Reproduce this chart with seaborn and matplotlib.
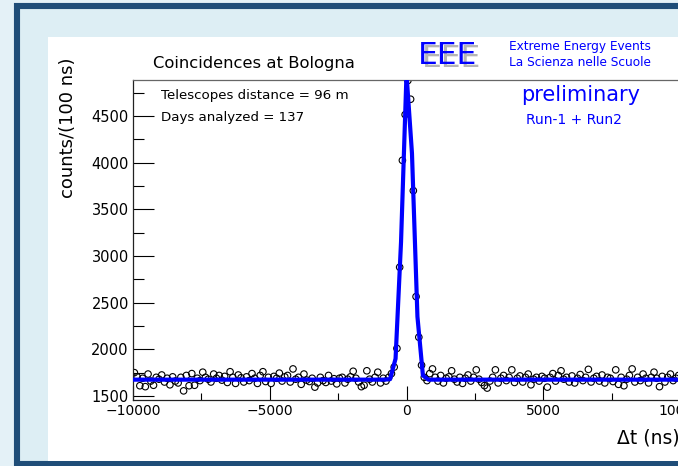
import numpy as np
import matplotlib
matplotlib.use("Agg")
import matplotlib.pyplot as plt
import seaborn as sns
from matplotlib.patches import Rectangle
from matplotlib.ticker import MultipleLocator

# =========================
# data
# =========================
bin_first = -9950      # first bin centre (ns)
bin_width = 100        # ns
counts = [
    1750, 1705, 1610, 1690, 1600, 1735, 1660, 1615, 1700, 1680,
    1725, 1650, 1690, 1620, 1705, 1660, 1640, 1700, 1555, 1720,
    1610, 1740, 1615, 1690, 1665, 1755, 1700, 1680, 1650, 1735,
    1690, 1720, 1670, 1710, 1645, 1760, 1700, 1635, 1725, 1695,
    1650, 1705, 1665, 1740, 1690, 1635, 1720, 1760, 1655, 1700,
    1635, 1710, 1690, 1745, 1660, 1705, 1720, 1650, 1790, 1680,
    1700, 1625, 1735, 1670, 1655, 1690, 1595, 1640, 1700, 1665,
    1645, 1720, 1660, 1685, 1630, 1690, 1700, 1640, 1680, 1705,
    1765, 1690, 1650, 1600, 1615, 1770, 1680, 1650, 1700, 1755,
    1640, 1690, 1660, 1700, 1740, 1810, 2010, 2880, 4025, 4515,
    4880, 4680, 3700, 2565, 2130, 1830, 1700, 1665, 1740, 1790,
    1700, 1660, 1720, 1640, 1690, 1705, 1770, 1680, 1650, 1700,
    1635, 1690, 1725, 1660, 1700, 1780, 1680, 1645, 1611, 1585,
    1660, 1700, 1780, 1640, 1690, 1720, 1665, 1700, 1780, 1645,
    1690, 1715, 1650, 1700, 1735, 1620, 1680, 1700, 1660, 1710,
    1690, 1595, 1700, 1740, 1660, 1720, 1770, 1680, 1700, 1650,
    1715, 1640, 1690, 1730, 1665, 1700, 1785, 1650, 1690, 1710,
    1660, 1725, 1640, 1700, 1690, 1655, 1780, 1625, 1700, 1610,
    1680, 1720, 1790, 1650, 1700, 1665, 1735, 1690, 1640, 1700,
    1755, 1690, 1600, 1710, 1650, 1700, 1735, 1665, 1690, 1720,
]
dt = bin_first + bin_width * np.arange(len(counts))

# fit curve: flat background plus the peak vertices (drawn every 200 ns)
fit_step = 200
fit_background = 1675
fit_peak_x = [-600, -400, -200, 0, 200, 400, 600]
fit_peak_y = [1680, 1900, 3150, 4950, 4100, 2350, 1720]

fit_x = np.arange(-10000, 10001, fit_step)
fit_y = np.full(len(fit_x), fit_background, dtype=float)
for xv, yv in zip(fit_peak_x, fit_peak_y):
    fit_y[fit_x == xv] = yv

title = "Coincidences at Bologna"
info_lines = ["Telescopes distance = 96 m", "Days analyzed = 137"]

# =========================
# figure
# =========================
W, H = 678, 466
fig = plt.figure(figsize=(W / 100, H / 100), dpi=100, facecolor="#e4f1f7")


def fx(x):
    return x / W


def fy(y):
    return 1 - y / H


# navy frame + light band + white canvas
fig.add_artist(Rectangle((fx(17), fy(464)), fx(900 - 17), (464 - 5.5) / H,
                         transform=fig.transFigure, facecolor="#ddeef4",
                         edgecolor="#1f4d78", linewidth=4.4, zorder=-3))
fig.add_artist(Rectangle((fx(48), fy(461)), fx(900 - 48), (461 - 37) / H,
                         transform=fig.transFigure, facecolor="white",
                         edgecolor="none", zorder=-2))

ax = fig.add_axes([fx(133), fy(400), 547 / W, 320 / H])
ax.set_facecolor("white")

sns.scatterplot(x=dt, y=counts, ax=ax, marker="o", s=22,
                facecolor="none", edgecolor="black", linewidth=0.8, zorder=2)
sns.lineplot(x=fit_x, y=fit_y, ax=ax, color="#0000ff", linewidth=3, zorder=3)

ax.set_xlim(-10000, 10000)
ax.set_ylim(1457, 4886)
ax.set_xlabel("")
ax.set_ylabel("")

ax.xaxis.set_major_locator(MultipleLocator(5000))
ax.xaxis.set_minor_locator(MultipleLocator(2500))
ax.yaxis.set_major_locator(MultipleLocator(500))
ax.yaxis.set_minor_locator(MultipleLocator(250))

ax.tick_params(axis="x", which="major", direction="in", length=10, width=0.8,
               labelsize=10, pad=3)
ax.tick_params(axis="x", which="minor", direction="in", length=5, width=0.8)
ax.tick_params(axis="y", which="major", direction="in", length=15, width=0.8,
               labelsize=10.5, pad=3)
ax.tick_params(axis="y", which="minor", direction="in", length=8, width=0.8)

for name, spine in ax.spines.items():
    spine.set_linewidth(0.9)
    spine.set_edgecolor("#222222" if name != "top" else "#666666")

# =========================
# texts
# =========================
fig.text(fx(153), fy(68), title, fontsize=11.8, ha="left", va="baseline")

# EEE logo
fig.text(fx(422), fy(67), "EEE", fontsize=22.5, color="#b5b5b5",
         ha="left", va="baseline")
fig.text(fx(418), fy(64), "EEE", fontsize=22.5, color="#0000ff",
         ha="left", va="baseline")
fig.text(fx(509), fy(50), "Extreme Energy Events", fontsize=8.7,
         color="#0000ff", ha="left", va="baseline")
fig.text(fx(509), fy(66), "La Scienza nelle Scuole", fontsize=8.7,
         color="#0000ff", ha="left", va="baseline")

fig.text(fx(581), fy(95), "preliminary", fontsize=15, color="#0000ff",
         ha="center", va="center")
fig.text(fx(574), fy(120), "Run-1 + Run2", fontsize=10, color="#0000ff",
         ha="center", va="center")

fig.text(fx(161), fy(96), info_lines[0], fontsize=9.6, ha="left", va="center")
fig.text(fx(161), fy(117), info_lines[1], fontsize=9.6, ha="left", va="center")

fig.text(fx(68), fy(57), "counts/(100 ns)", fontsize=13, rotation=90,
         ha="center", va="top")
fig.text(fx(680), fy(429), "\u0394t (ns)", fontsize=13.5, ha="right", va="top")

fig.savefig("out.png", dpi=100, facecolor=fig.get_facecolor())
